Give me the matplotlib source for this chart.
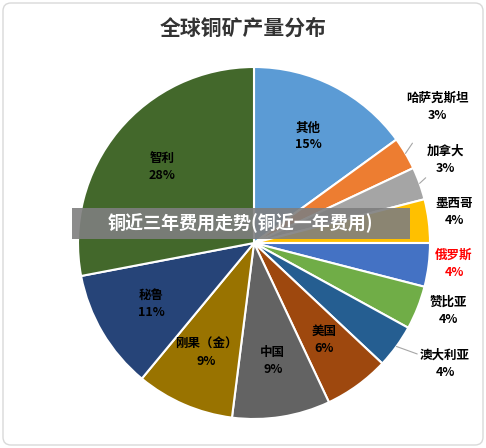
import matplotlib
matplotlib.use("Agg")
import matplotlib.pyplot as plt
import numpy as np
from matplotlib.patches import FancyBboxPatch, Rectangle

plt.rcParams['font.family'] = ['Noto Sans CJK SC', 'DejaVu Sans']

countries = ["其他", "哈萨克斯坦", "加拿大", "墨西哥", "俄罗斯", "赞比亚", "澳大利亚",
             "美国", "中国", "刚果（金）", "秘鲁", "智利"]
shares = [15, 3, 3, 4, 4, 4, 4, 6, 9, 9, 11, 28]
colors = ["#5b9bd5", "#ed7d31", "#a5a5a5", "#ffc000", "#4472c4", "#70ad47", "#255e91",
          "#9e480e", "#636363", "#997300", "#264478", "#43682b"]
outside = [False, True, True, True, True, True, True, False, False, False, False, False]
out_pos = [None, (437, 341), (445, 288), (454, 236), (454, 184), (448, 137), (445, 84),
           None, None, None, None, None]
leader = [False, True, True, False, False, False, True,
          False, False, False, False, False]
red_label = "俄罗斯"

W, H = 486, 448
fig = plt.figure(figsize=(W/100, H/100), dpi=100)
ax = fig.add_axes([0, 0, 1, 1])
ax.add_patch(FancyBboxPatch((3, 3), W-6, H-6, boxstyle="round,pad=0,rounding_size=8",
                            fill=False, ec="#d9d9d9", lw=1))

cx, cy, R = 254, 205, 176
wedges, _ = ax.pie(shares, colors=colors, startangle=90, counterclock=False,
                   center=(cx, cy), radius=R, frame=True,
                   wedgeprops=dict(edgecolor="white", linewidth=1.5))
ax.set_xlim(0, W); ax.set_ylim(0, H); ax.axis('off'); ax.set_aspect('equal')

for w, name, s, out, pos, ld in zip(wedges, countries, shares, outside, out_pos, leader):
    ang = np.deg2rad((w.theta1 + w.theta2) / 2)
    col = "red" if name == red_label else "black"
    txt = f"{name}\n{s}%"
    if out:
        ex, ey = cx + R*np.cos(ang), cy + R*np.sin(ang)
        ap = dict(arrowstyle="-", color="#a6a6a6", lw=0.8, shrinkA=16, shrinkB=0) if ld else None
        ax.annotate(txt, xy=(ex, ey), xytext=pos, ha="center", va="center",
                    fontsize=9, color=col, linespacing=1.4, fontweight="bold",
                    arrowprops=ap)
    else:
        f = 0.68
        ax.text(cx + f*R*np.cos(ang), cy + f*R*np.sin(ang), txt, ha="center", va="center",
                fontsize=9, color="black", linespacing=1.4, fontweight="bold")

ax.text(W/2, 420, "全球铜矿产量分布", ha="center", va="center", fontsize=15,
        color="#333333", fontweight="bold")
ax.add_patch(Rectangle((72, 209), 338, 31, facecolor="#7f7f7f", alpha=0.9, ec="none", zorder=5))
ax.text(240, 224.5, "铜近三年费用走势(铜近一年费用)", ha="center", va="center", fontsize=13,
        color="white", fontweight="bold", zorder=6)

fig.savefig("out.png", dpi=100)
